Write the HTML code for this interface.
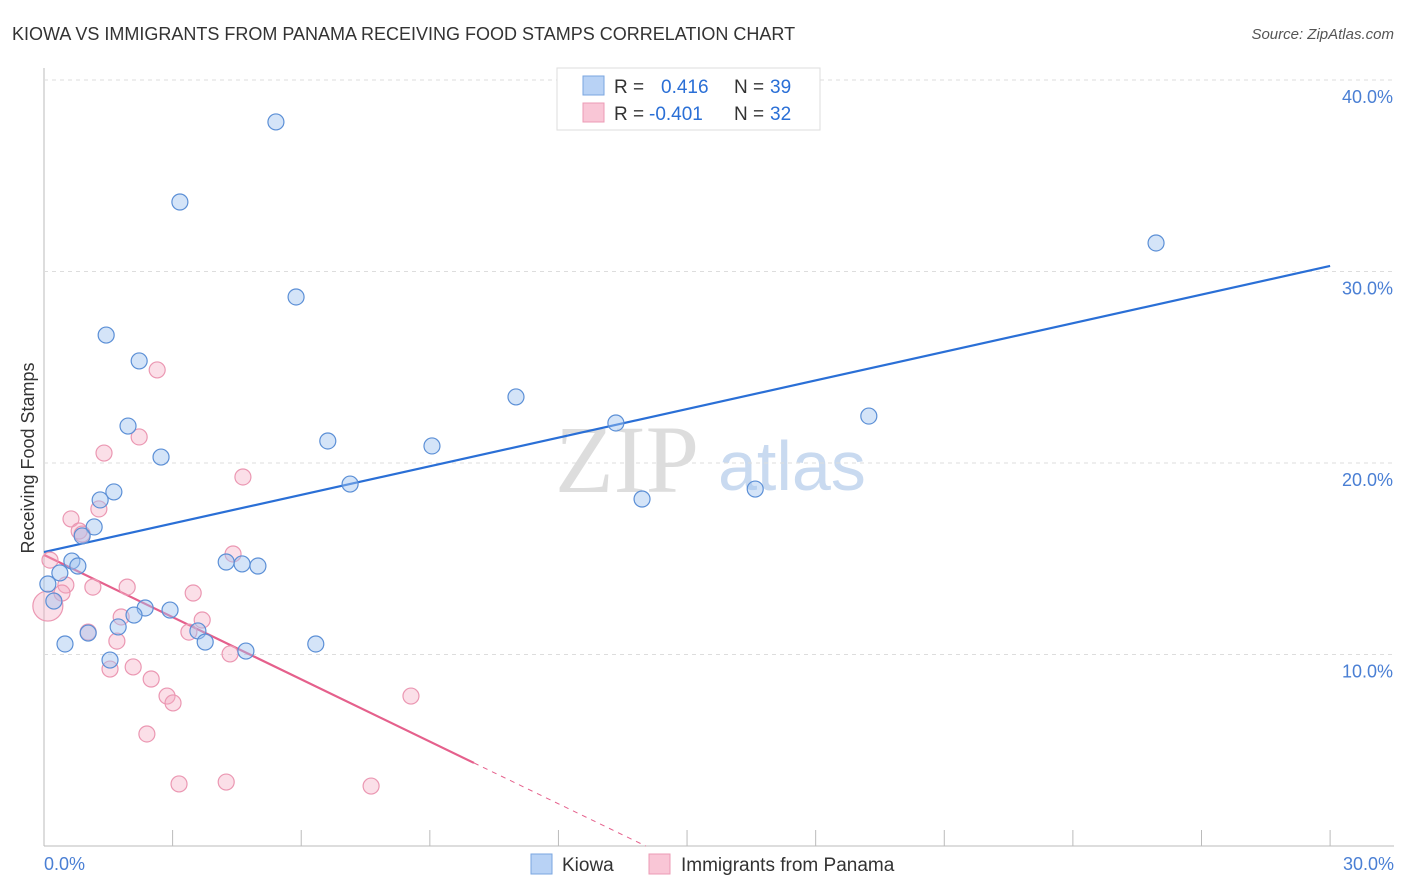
<!DOCTYPE html>
<html><head><meta charset="utf-8"><style>
body{margin:0;background:#fff;font-family:"Liberation Sans",sans-serif}
svg{display:block}
</style></head><body>
<svg id="chart" width="1406" height="892">
<text x="12" y="40" font-size="18" fill="#333">KIOWA VS IMMIGRANTS FROM PANAMA RECEIVING FOOD STAMPS CORRELATION CHART</text>
<text x="1394" y="39" font-size="15" fill="#555" font-style="italic" text-anchor="end">Source: ZipAtlas.com</text>
<text x="555" y="492" font-size="96" fill="#ddd" font-family="Liberation Serif">ZIP</text>
<text x="718" y="490" font-size="70" fill="#c9daf0">atlas</text>
<text transform="translate(34,458) rotate(-90)" font-size="18" fill="#333" text-anchor="middle">Receiving Food Stamps</text>
<g id="grid"></g><g id="ticks"></g><g id="lines"></g><g id="pts"></g>
<g>
<rect x="557" y="68" width="263" height="62" fill="#fff" stroke="#ddd"/>
<rect x="583" y="76" width="21" height="19" fill="#b8d2f5" stroke="#7aa6e0"/>
<rect x="583" y="103" width="21" height="19" fill="#f9c6d6" stroke="#ec9bb5"/>
<text x="614" y="93" font-size="19" fill="#333">R =</text>
<text x="661" y="93" font-size="19" fill="#2a6fd6">0.416</text>
<text x="734" y="93" font-size="19" fill="#333">N =</text>
<text x="770" y="93" font-size="19" fill="#2a6fd6">39</text>
<text x="614" y="120" font-size="19" fill="#333">R =</text>
<text x="649" y="120" font-size="19" fill="#2a6fd6">-0.401</text>
<text x="734" y="120" font-size="19" fill="#333">N =</text>
<text x="770" y="120" font-size="19" fill="#2a6fd6">32</text>
</g>
<g>
<rect x="531" y="854" width="21" height="20" fill="#b8d2f5" stroke="#7aa6e0"/>
<text x="562" y="871" font-size="19" fill="#333">Kiowa</text>
<rect x="649" y="854" width="21" height="20" fill="#f9c6d6" stroke="#ec9bb5"/>
<text x="681" y="871" font-size="19" fill="#333">Immigrants from Panama</text>
</g>
<text x="44" y="870" font-size="18" fill="#4a7fd4">0.0%</text>
<text x="1394" y="870" font-size="18" fill="#4a7fd4" text-anchor="end">30.0%</text>
</svg>
<script>
const yTicks=[10,20,30,40];
const kiowaX=[5.41,3.17,25.94,5.88,1.45,2.22,11.01,19.24,13.34,1.96,6.62,9.05,2.73,7.14,16.59,13.95,1.63,1.31,1.17,0.89,0.65,0.79,4.25,4.62,4.99,0.37,0.09,0.23,2.36,2.94,2.10,1.73,1.03,3.59,3.76,0.49,6.34,4.71,1.54];
const kiowaY=[37.81,33.63,31.49,28.67,26.68,25.33,23.45,22.45,22.09,21.93,21.15,20.89,20.31,18.90,18.64,18.12,18.49,18.07,16.66,16.19,14.88,14.62,14.83,14.73,14.62,14.26,13.68,12.79,12.43,12.32,12.06,11.44,11.12,11.23,10.65,10.55,10.55,10.18,9.71];
const panamaX=[2.64,2.22,1.40,4.64,0.63,1.28,0.82,0.89,4.41,0.14,0.09,0.51,1.14,1.94,0.42,3.48,1.80,3.69,3.38,1.03,1.70,4.34,2.08,1.54,2.50,2.87,3.01,8.56,2.40,3.15,4.25,7.63];
const panamaY=[24.86,21.36,20.52,19.27,17.08,17.60,16.45,16.29,15.25,14.93,12.53,13.63,13.52,13.52,13.21,13.21,11.96,11.80,11.17,11.17,10.70,10.03,9.35,9.24,8.72,7.83,7.47,7.83,5.85,3.24,3.34,3.13];
const kiowaTrend=[15.35,30.29];
const panamaTrend=[15.2,-1.083];
const panamaSolidEnd=10.03;
const X=v=>44+v*42.87, Y=v=>846-v*19.15;
const NS='http://www.w3.org/2000/svg';
function mk(p,t,a){const e=document.createElementNS(NS,t);for(const k in a)e.setAttribute(k,a[k]);p.appendChild(e);return e;}
const grid=document.getElementById('grid');
mk(grid,'line',{x1:44,y1:68,x2:44,y2:846,stroke:'#bbb'});
mk(grid,'line',{x1:44,y1:846,x2:1394,y2:846,stroke:'#bbb'});
yTicks.forEach(t=>{
 const l=mk(grid,'line',{x1:44,x2:1394,y1:Y(t),y2:Y(t),stroke:'#ddd','stroke-dasharray':'4,4'});
 
 
 const tx=mk(grid,'text',{x:1393,y:Y(t)+23,'font-size':18,fill:'#4a7fd4','text-anchor':'end'});
 tx.textContent=t.toFixed(1)+'%';
 
 
});
const ticks=document.getElementById('ticks');
for(let i=1;i<=10;i++){mk(ticks,'line',{x1:X(i*3),x2:X(i*3),y1:830,y2:846,stroke:'#bbb'});}
const lines=document.getElementById('lines');
const bl=mk(lines,'line',{x1:X(0),y1:Y(kiowaTrend[0]),x2:X(30),y2:Y(kiowaTrend[1]),stroke:'#2a6fd6','stroke-width':2.2});


const pf=x=>panamaTrend[0]+panamaTrend[1]*x;
const pl=mk(lines,'line',{x1:X(0),y1:Y(pf(0)),x2:X(panamaSolidEnd),y2:Y(pf(panamaSolidEnd)),stroke:'#e5608c','stroke-width':2.2});


const xz=-panamaTrend[0]/panamaTrend[1];
const pd=mk(lines,'line',{x1:X(panamaSolidEnd),y1:Y(pf(panamaSolidEnd)),x2:X(xz),y2:Y(0),stroke:'#e5608c','stroke-width':1,'stroke-dasharray':'5,5'});


const pts=document.getElementById('pts');
panamaX.forEach((x,i)=>{
 const c=mk(pts,'circle',{cx:X(x),cy:Y(panamaY[i]),r:i===10?15:8,fill:'rgba(244,170,195,0.38)',stroke:'#eb97b2','stroke-width':1.2});
 
 
});
kiowaX.forEach((x,i)=>{
 const c=mk(pts,'circle',{cx:X(x),cy:Y(kiowaY[i]),r:8,fill:'rgba(160,196,240,0.45)',stroke:'#5b8fd6','stroke-width':1.2});
 
 
});
</script>
</body></html>
